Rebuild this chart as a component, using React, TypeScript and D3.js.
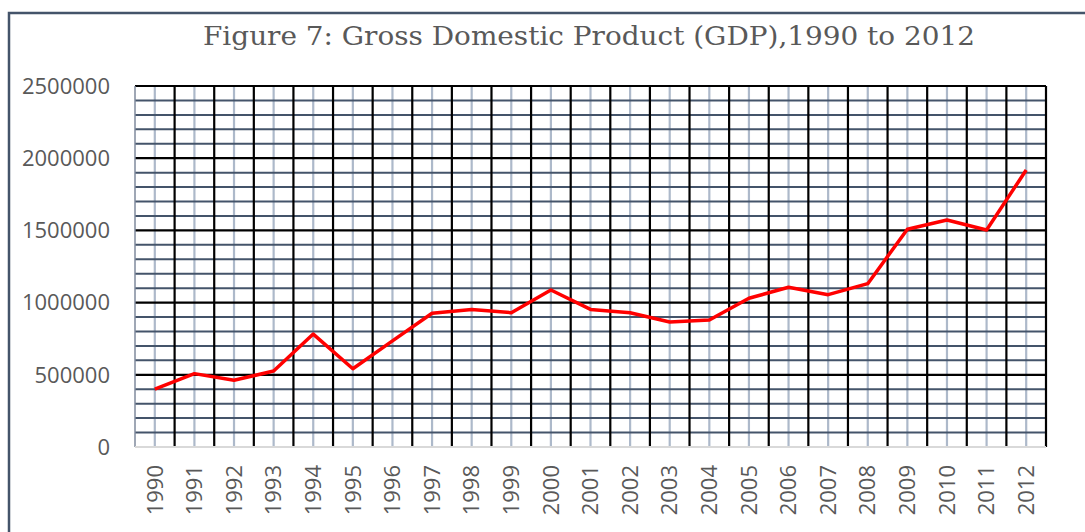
import React, { useEffect, useRef } from 'react';
import * as d3 from 'd3';

const years = [
  '1990', '1991', '1992', '1993', '1994', '1995', '1996', '1997', '1998', '1999', '2000', '2001',
  '2002', '2003', '2004', '2005', '2006', '2007', '2008', '2009', '2010', '2011', '2012'
];
const gdp = [
  400000, 508000, 462000, 526000, 782000, 542000, 735000, 926000, 953000, 930000, 1087000, 953000,
  930000, 866000, 879000, 1030000, 1106000, 1055000, 1131000, 1508000, 1572000, 1503000, 1918000
];
const yTicks = [0, 500000, 1000000, 1500000, 2000000, 2500000];
const title = 'Figure 7: Gross Domestic Product (GDP),1990 to 2012';

const App: React.FC = () => {
  const svgRef = useRef<SVGSVGElement>(null);

  useEffect(() => {
    if (!svgRef.current) return;
    const svg = d3.select(svgRef.current);
    svg.selectAll('*').remove();

    const W = 1085, H = 532;
    const left = 135, right = 1046, top = 86, bottom = 447;

    // outer frame
    svg.append('rect')
      .attr('x', 9).attr('y', 13)
      .attr('width', W + 20).attr('height', H + 20)
      .attr('fill', '#fff')
      .attr('stroke', '#44546a')
      .attr('stroke-width', 2.5);

    svg.append('text')
      .attr('x', 589).attr('y', 45)
      .attr('text-anchor', 'middle')
      .attr('font-family', '"DejaVu Serif", serif')
      .attr('font-size', 26)
      .attr('fill', '#595959')
      .attr('textLength', 772)
      .attr('lengthAdjust', 'spacingAndGlyphs')
      .text(title);

    const x = d3.scaleBand().domain(years).range([left, right]);
    const y = d3.scaleLinear().domain([0, 2500000]).range([bottom, top]);
    const center = (d: string) => (x(d) as number) + x.bandwidth() / 2;

    const g = svg.append('g');

    // minor vertical lines at category centers
    g.selectAll('.vminor').data(years).enter().append('line')
      .attr('x1', center).attr('x2', center)
      .attr('y1', top).attr('y2', bottom)
      .attr('stroke', '#adb9ca').attr('stroke-width', 2.2);

    // minor horizontal lines every 100000
    const minor = d3.range(100000, 2500000, 100000).filter(v => v % 500000 !== 0);
    g.selectAll('.hminor').data(minor).enter().append('line')
      .attr('x1', left).attr('x2', right)
      .attr('y1', d => y(d)).attr('y2', d => y(d))
      .attr('stroke', '#44546a').attr('stroke-width', 2);

    // major horizontal lines
    g.selectAll('.hmajor').data(yTicks.filter(v => v > 0)).enter().append('line')
      .attr('x1', left).attr('x2', right)
      .attr('y1', d => y(d)).attr('y2', d => y(d))
      .attr('stroke', '#000').attr('stroke-width', 2.2);

    // major vertical lines at category boundaries
    g.selectAll('.vmajor').data(years).enter().append('line')
      .attr('x1', d => (x(d) as number) + x.bandwidth())
      .attr('x2', d => (x(d) as number) + x.bandwidth())
      .attr('y1', top).attr('y2', bottom)
      .attr('stroke', '#000').attr('stroke-width', 2.2);

    // value axis line
    g.append('line')
      .attr('x1', left).attr('x2', left)
      .attr('y1', top).attr('y2', bottom)
      .attr('stroke', '#7f8a9c').attr('stroke-width', 1.5);

    // category axis line
    g.append('line')
      .attr('x1', left).attr('x2', right)
      .attr('y1', bottom).attr('y2', bottom)
      .attr('stroke', '#d9d9d9').attr('stroke-width', 2);

    // y labels
    g.selectAll('.ylab').data(yTicks).enter().append('text')
      .attr('x', 110).attr('y', d => y(d))
      .attr('dy', '0.35em')
      .attr('text-anchor', 'end')
      .attr('font-family', '"Open Sans", sans-serif')
      .attr('font-size', 22)
      .attr('fill', '#595959')
      .text(d => String(d));

    // x labels
    g.selectAll('.xlab').data(years).enter().append('text')
      .attr('transform', d => `translate(${center(d)},465) rotate(-90)`)
      .attr('dy', '0.35em')
      .attr('text-anchor', 'end')
      .attr('font-family', '"Open Sans", sans-serif')
      .attr('font-size', 22)
      .attr('fill', '#595959')
      .text(d => d);

    const line = d3.line<number>()
      .x((_, i) => center(years[i]))
      .y(d => y(d));

    g.append('path')
      .datum(gdp)
      .attr('d', line)
      .attr('fill', 'none')
      .attr('stroke', '#ff0000')
      .attr('stroke-width', 3.5)
      .attr('stroke-linejoin', 'round');
  }, []);

  return (
    <svg
      ref={svgRef}
      width={1085}
      height={532}
      style={{ position: 'absolute', left: 0, top: 0, background: '#fff' }}
    />
  );
};

export default App;
